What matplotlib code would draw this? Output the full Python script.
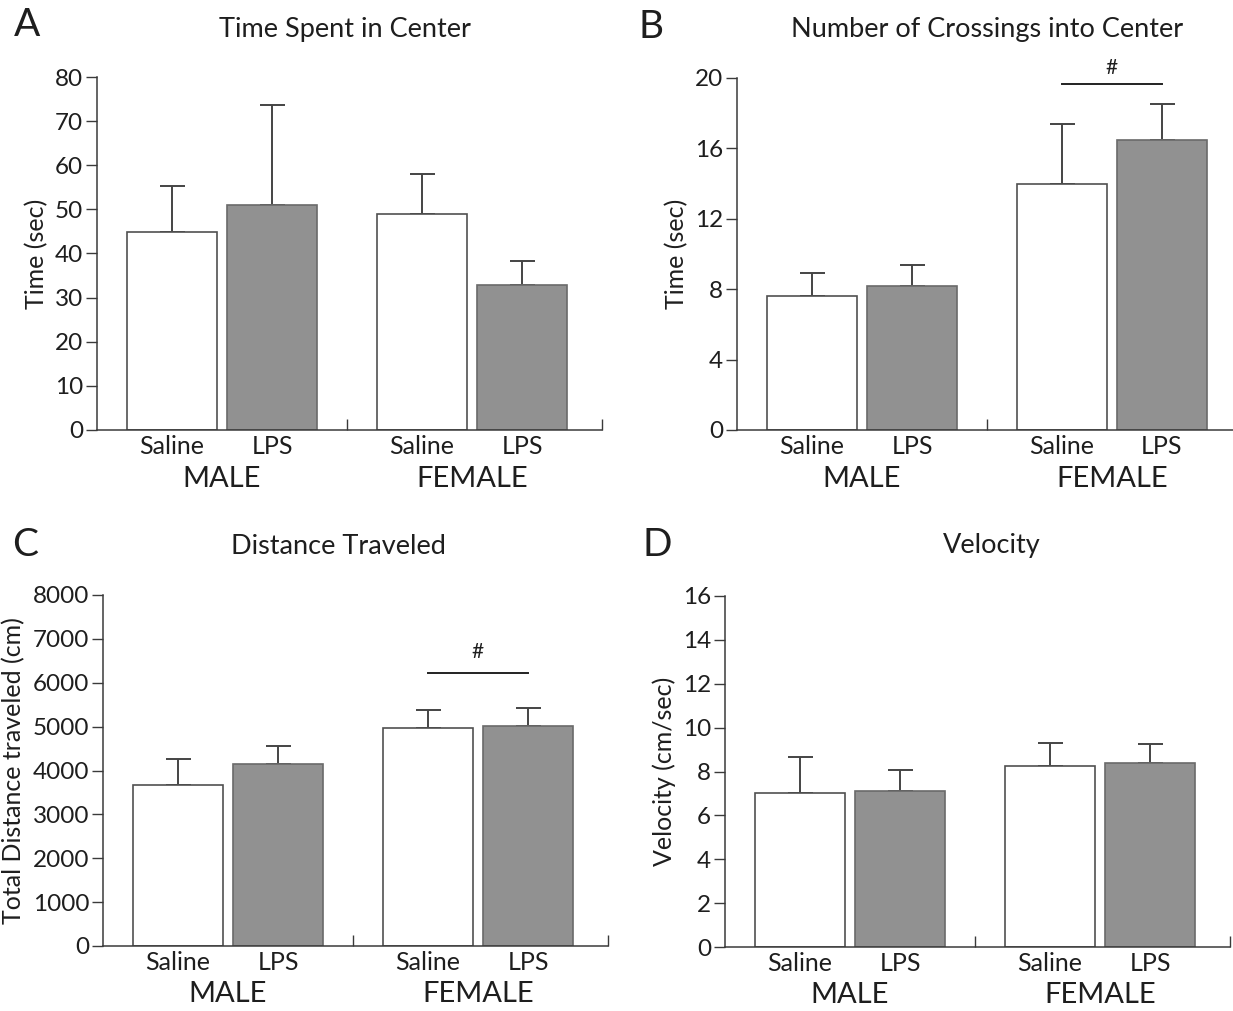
import matplotlib.pyplot as plt
import numpy as np

plt.rcParams['font.family'] = ['Lato', 'DejaVu Sans']

groups = ["MALE", "FEMALE"]
treatments = ["Saline", "LPS"]

# values: [Saline M, LPS M, Saline F, LPS F]
time_center = [44.8, 50.9, 49.0, 32.9]
time_center_err = [10.4, 22.7, 9.0, 5.4]

crossings = [7.6, 8.2, 14.0, 16.5]
crossings_err = [1.3, 1.2, 3.4, 2.0]

distance = [3670, 4150, 4960, 5020]
distance_err = [590, 400, 430, 410]

velocity = [7.0, 7.1, 8.27, 8.39]
velocity_err = [1.65, 0.95, 1.03, 0.87]

pos = np.array([0, 1, 2.5, 3.5])
white_col = "white"
grey_col = "#919191"
text_col = "#1e1e1e"
axis_col = "#3a3a3a"

fig = plt.figure(figsize=(12.33, 10.11), dpi=100)

W = 505 / 1233
panels = [
    dict(rect=[97 / 1233, 1 - 430 / 1011, W, 353 / 1011], vals=time_center, err=time_center_err,
         ylim=80, ticks=np.arange(0, 81, 10), ylabel="Time (sec)",
         title="Time Spent in Center", tx=345, ty=30, letter="A", lx=27, ly=25, sig=None),
    dict(rect=[737 / 1233, 1 - 430 / 1011, W, 352 / 1011], vals=crossings, err=crossings_err,
         ylim=20, ticks=np.arange(0, 21, 4), ylabel="Time (sec)",
         title="Number of Crossings into Center", tx=987, ty=30, letter="B", lx=651, ly=27,
         sig=(19.65, 20.55)),
    dict(rect=[103 / 1233, 1 - 946 / 1011, W, 351 / 1011], vals=distance, err=distance_err,
         ylim=8000, ticks=np.arange(0, 8001, 1000), ylabel="Total Distance traveled (cm)",
         title="Distance Traveled", tx=338, ty=546, letter="C", lx=25, ly=545,
         sig=(6230, 6700)),
    dict(rect=[725 / 1233, 1 - 947 / 1011, W, 351 / 1011], vals=velocity, err=velocity_err,
         ylim=16, ticks=np.arange(0, 17, 2), ylabel="Velocity (cm/sec)",
         title="Velocity", tx=992, ty=546, letter="D", lx=657, ly=545, sig=None),
]

for p in panels:
    ax = fig.add_axes(p["rect"])
    colors = [white_col, grey_col, white_col, grey_col]
    edges = ["#505050", "#6a6a6a", "#505050", "#6a6a6a"]
    ax.bar(pos, p["vals"], width=0.9, color=colors, edgecolor=edges, linewidth=1.2, zorder=2)
    ax.errorbar(pos, p["vals"], yerr=[np.zeros(4), p["err"]], fmt="none",
                ecolor="#444444", elinewidth=1.4, capsize=9, capthick=1.4, zorder=1)

    ax.set_xlim(-0.75, 4.3)
    ax.set_ylim(0, p["ylim"])
    ax.set_yticks(p["ticks"])
    ax.set_yticklabels([str(int(t)) for t in p["ticks"]], fontsize=17.5, color=text_col)
    ax.set_xticks([1.75, 4.3])
    ax.set_xticklabels([])
    ax.tick_params(axis="x", direction="in", length=8, width=1, color=axis_col)
    ax.tick_params(axis="y", direction="out", length=8, width=1, color=axis_col, pad=2)
    for s in ["top", "right"]:
        ax.spines[s].set_visible(False)
    for s in ["left", "bottom"]:
        ax.spines[s].set_color(axis_col)
        ax.spines[s].set_linewidth(1.1)
    ax.patch.set_alpha(0)
    ax.set_ylabel(p["ylabel"], fontsize=18, color=text_col, labelpad=5)

    for x, lab in zip(pos, treatments * 2):
        ax.text(x, -0.048, lab, transform=ax.get_xaxis_transform(), ha="center", va="center",
                fontsize=18, color=text_col)
    for x, lab in zip([0.5, 3.0], groups):
        ax.text(x, -0.138, lab, transform=ax.get_xaxis_transform(), ha="center", va="center",
                fontsize=21, color=text_col)

    if p["sig"] is not None:
        ly, hy = p["sig"]
        ax.plot([pos[2], pos[3]], [ly, ly], color="#222222", linewidth=1.4, clip_on=False)
        ax.text((pos[2] + pos[3]) / 2, hy, "#", ha="center", va="center", fontsize=15,
                color=text_col)

    fig.text(p["tx"] / 1233, 1 - p["ty"] / 1011, p["title"], ha="center", va="center",
             fontsize=19.5, color=text_col)
    fig.text(p["lx"] / 1233, 1 - p["ly"] / 1011, p["letter"], ha="center", va="center",
             fontsize=28, color=text_col)

fig.savefig("out.png", dpi=100, facecolor="white")
